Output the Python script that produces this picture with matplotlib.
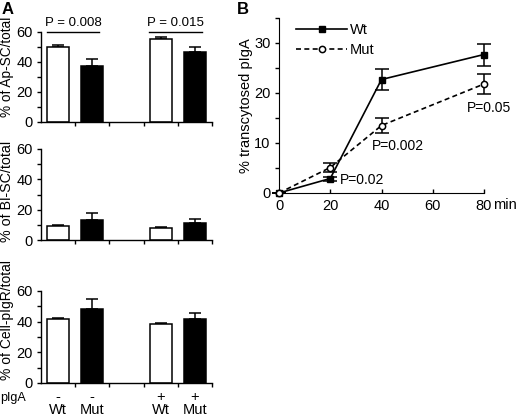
import matplotlib.pyplot as plt

plt.rcParams['font.family'] = ['Liberation Sans', 'DejaVu Sans']
plt.rcParams['font.size'] = 10

# panel A data (Wt-, Mut-, Wt+, Mut+)
groups = ['Wt', 'Mut', 'Wt', 'Mut']
pigA = ['-', '-', '+', '+']
bar_pos = [0, 1, 3, 4]
bar_colors = ['white', 'black', 'white', 'black']

ap_sc = [50.0, 37.3, 55.1, 46.2]
ap_sc_err = [1.3, 4.3, 1.5, 3.4]
bl_sc = [9.4, 13.2, 7.7, 11.0]
bl_sc_err = [0.8, 4.8, 0.6, 2.8]
cell_pigr = [41.5, 48.0, 38.2, 41.7]
cell_pigr_err = [1.0, 6.6, 1.0, 4.1]

ylabels_a = ['% of Ap-SC/total', '% of Bl-SC/total', '% of Cell-pIgR/total']
ylabel_y = [0.61, 0.53, 0.68]
ylabel_size = [9.8, 10.3, 10]

# panel B data
minutes = [0, 20, 40, 80]
wt = [0.0, 2.9, 22.7, 27.7]
wt_err = [0.0, 0.4, 2.1, 2.2]
mut = [0.0, 5.1, 13.5, 21.8]
mut_err = [0.0, 0.9, 1.5, 2.05]
p_labels_b = ['P=0.02', 'P=0.002', 'P=0.05']

W, H = 520, 418
fig = plt.figure(figsize=(W / 100, H / 100), dpi=100)


def box(left, top, right, bottom):
    return [left / W, 1 - bottom / H, (right - left) / W, (bottom - top) / H]


a_boxes = [box(41, 31.5, 212, 121.5), box(41, 149, 212, 240), box(41, 291, 212, 383)]
a_data = [(ap_sc, ap_sc_err), (bl_sc, bl_sc_err), (cell_pigr, cell_pigr_err)]

for i, (rect, (vals, errs)) in enumerate(zip(a_boxes, a_data)):
    ax = fig.add_axes(rect)
    ax.bar(bar_pos, vals, width=0.64, color=bar_colors, edgecolor='black',
           linewidth=1.1, zorder=2)
    ax.errorbar(bar_pos, vals, yerr=[[0] * 4, errs], fmt='none', ecolor='black',
                elinewidth=1.1, capsize=4.5, capthick=1.1, zorder=1)
    ax.set_xlim(-0.5, 4.5)
    ax.set_ylim(0, 60)
    ax.set_yticks([0, 10, 20, 30, 40, 50, 60])
    ax.set_yticklabels(['0', '', '20', '', '40', '', '60'])
    ax.set_xticks([0.5, 1.5, 2.5, 3.5, 4.5])
    ax.set_xticklabels([])
    ax.spines['top'].set_visible(False)
    ax.spines['right'].set_visible(False)
    ax.spines['left'].set_linewidth(1.0)
    ax.spines['bottom'].set_linewidth(1.0)
    ax.tick_params(direction='out', length=3, width=1.0, labelsize=10.5, pad=3)
    ax.set_ylabel(ylabels_a[i], fontsize=ylabel_size[i])
    ax.yaxis.set_label_coords(-0.16, ylabel_y[i])

    if i == 0:
        # significance brackets
        for x0, x1, txt in [(-0.33, 1.2, 'P = 0.008'), (2.67, 4.2, 'P = 0.015')]:
            ax.plot([x0, x1], [60, 60], color='black', lw=1.0, clip_on=False)
            ax.text((x0 + x1) / 2, 61.5, txt, ha='center', va='bottom', fontsize=9.5)
    if i == 2:
        trans = ax.get_xaxis_transform()
        for x, s, g in zip(bar_pos, pigA, groups):
            ax.text(x, -0.152, s, transform=trans, ha='center', va='center', fontsize=10.5)
            ax.text(x, -0.34, g, transform=trans, ha='center', va='baseline', fontsize=10.5)

fig.text(0.5 / W, 1 - 398 / H, 'pIgA', ha='left', va='center', fontsize=9)
fig.text(2 / W, 1 - 2 / H, 'A', ha='left', va='top', fontsize=12, fontweight='bold')
fig.text(237 / W, 1 - 2 / H, 'B', ha='left', va='top', fontsize=12, fontweight='bold')

# panel B
axb = fig.add_axes(box(279, 18, 484, 193))
axb.errorbar(minutes, wt, yerr=wt_err, fmt='none', ecolor='black', capsize=5,
             elinewidth=1.1, capthick=1.1, clip_on=False, zorder=2)
axb.errorbar(minutes, mut, yerr=mut_err, fmt='none', ecolor='black', capsize=5,
             elinewidth=1.1, capthick=1.1, clip_on=False, zorder=2)
axb.plot(minutes, wt, color='black', lw=1.2, marker='s', markersize=4,
         mfc='black', mec='black', label='Wt', clip_on=False, zorder=3)
axb.plot(minutes, mut, color='black', lw=1.2, ls=(0, (3, 2)), marker='o',
         markersize=4.5, mfc='white', mec='black', mew=1.1, label='Mut',
         clip_on=False, zorder=3)
axb.set_xlim(0, 80)
axb.set_ylim(0, 35)
axb.set_xticks([0, 20, 40, 60, 80])
axb.set_yticks([0, 5, 10, 15, 20, 25, 30, 35])
axb.set_yticklabels(['0', '', '10', '', '20', '', '30', ''])
axb.spines['top'].set_visible(False)
axb.spines['right'].set_visible(False)
axb.tick_params(axis='y', direction='out', length=3, width=1.0, labelsize=10.5, pad=3)
axb.tick_params(axis='x', direction='in', length=3, width=1.0, labelsize=10.5, pad=4)
axb.set_ylabel('% transcytosed pIgA', fontsize=10.5)
axb.yaxis.set_label_coords(-0.125, 0.5)
axb.text(1.045, -0.028, 'min', transform=axb.transAxes, ha='left', va='top', fontsize=10.5)

for (x, y), txt in zip([(23.7, 2.5), (36.3, 9.5), (73.3, 17.1)], p_labels_b):
    axb.text(x, y, txt, ha='left', va='center', fontsize=10)

axb.legend(loc='upper left', bbox_to_anchor=(0.07, 0.99), frameon=False,
           handlelength=3.5, handletextpad=0.15, fontsize=10.5,
           labelspacing=0.45, borderaxespad=0.0, borderpad=0.2)

fig.savefig('out.png', dpi=100)
